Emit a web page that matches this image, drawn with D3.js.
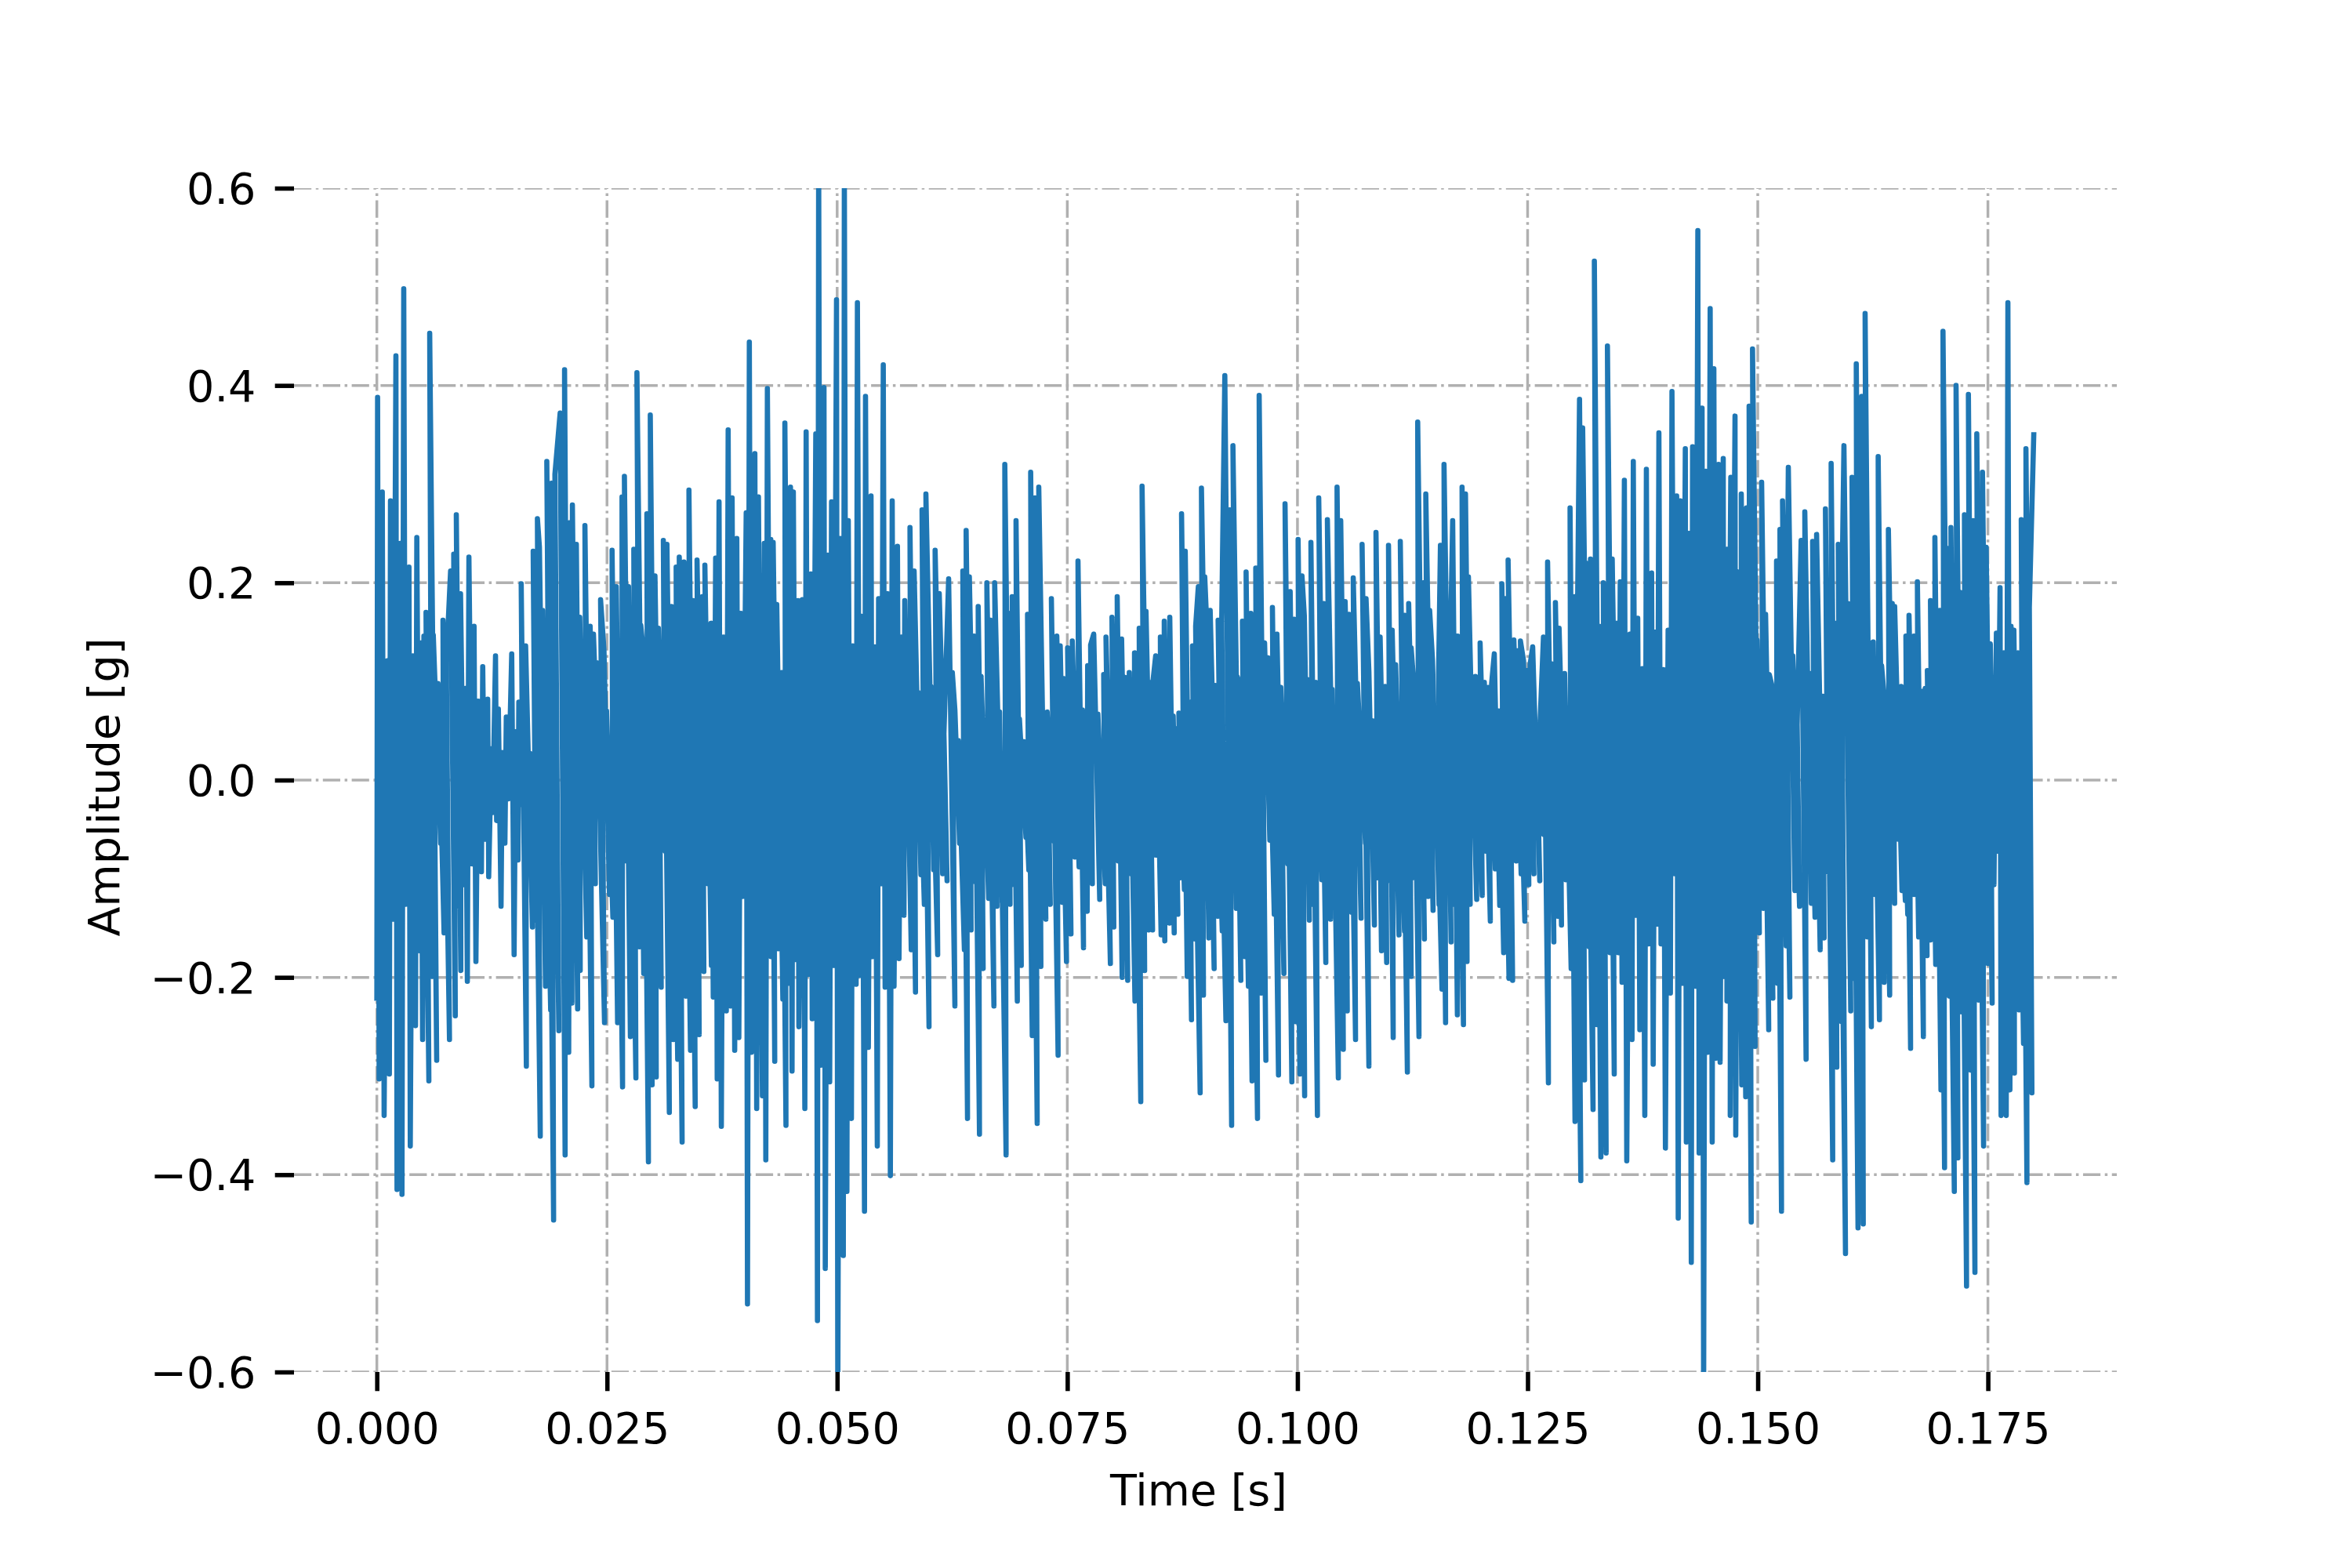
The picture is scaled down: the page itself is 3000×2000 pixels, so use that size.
<!DOCTYPE html>
<html>
<head>
<meta charset="utf-8">
<script src="https://cdn.jsdelivr.net/npm/d3@7"></script>
<style>
html,body{margin:0;padding:0;background:#fff;}
svg{display:block;}
text{font-family:"DejaVu Sans",sans-serif;fill:#000;}
</style>
</head>
<body>
<svg id="chart" width="3000" height="2000"></svg>
<script>
// Values: upper and lower excursions of the signal.
const topMs = [
0.08,0.59,1.13,1.48,2.07,2.55,2.92,3.49,3.92,4.34,4.77,5.11,5.34,5.74,6.13,6.64,7.18,7.55,8.01,8.35,8.63,9.09,9.60,10.0,10.56,11.02,11.50,12.04,12.44,12.89,13.20,13.63,14.06,14.65,15.08,15.42,15.68,16.16,16.64,16.98,17.44,17.66,18.00,18.46,18.97,19.34,19.91,20.39,20.96,21.24,21.67,22.04,
22.60,23.17,23.53,23.88,24.30,24.67,24.95,25.55,26.01,26.63,26.89,27.34,27.91,28.25,28.67,28.99,29.33,29.70,30.21,30.58,31.12,31.51,32.00,32.51,32.85,33.36,33.90,34.35,34.78,35.35,35.63,36.29,36.80,37.17,37.65,38.16,38.59,39.10,39.55,40.12,40.46,41.06,41.45,42.08,42.42,42.79,43.05,43.44,43.98,44.32,
44.93,45.24,45.73,46.21,46.63,47.15,47.68,47.99,48.57,48.99,49.39,49.93,50.33,50.78,51.21,51.69,52.20,52.65,53.08,53.68,54.10,54.50,55.01,55.49,55.98,56.55,56.97,57.34,57.91,58.36,58.79,59.22,59.64,60.18,60.64,61.09,61.60,62.11,62.51,62.79,63.16,63.65,64.01,64.36,64.87,65.32,65.63,66.26,66.66,67.11,
67.64,68.21,68.61,69.01,69.43,69.80,70.25,70.68,71.02,71.48,71.90,72.38,72.81,73.27,73.86,74.23,74.57,75.03,75.54,76.16,76.64,77.21,77.53,77.87,78.32,78.95,79.20,79.85,80.42,80.90,81.27,81.73,82.30,82.81,83.12,83.55,83.89,84.14,84.60,85.11,85.53,86.13,86.50,86.73,87.12,87.41,87.81,88.23,88.60,88.94,89.23,89.57,
89.93,90.16,90.52,91.06,91.38,91.77,92.11,92.63,92.99,93.45,93.68,94.02,94.42,94.93,95.47,95.84,96.18,96.43,96.80,97.28,97.77,98.19,98.65,99.21,99.64,100.07,100.49,100.75,101.03,101.46,101.97,102.31,102.85,103.25,103.76,104.30,104.70,105.18,105.60,106.06,106.51,107.02,107.45,107.76,108.19,108.53,108.98,109.52,109.89,110.29,110.66,111.17,111.65,112.08,
112.35,112.63,113.06,113.34,113.68,113.94,114.36,114.67,114.99,115.33,115.53,115.92,116.32,116.55,116.86,117.40,117.88,118.25,118.57,118.88,119.33,119.84,120.30,120.72,121.09,121.38,121.86,122.20,122.57,122.88,123.22,123.51,123.88,124.22,124.56,124.93,125.27,125.55,125.95,126.35,126.72,127.17,127.57,128.02,128.42,129.02,129.61,130.10,130.38,130.64,130.98,131.32,131.83,132.25,132.79,133.22,133.67,134.19,134.64,
135.06,135.51,136.11,136.48,136.96,137.47,137.90,138.47,138.84,139.26,139.74,140.26,140.68,141.19,141.59,142.13,142.50,142.92,143.49,143.95,144.34,144.83,145.23,145.74,146.25,146.65,147.07,147.53,147.84,148.21,148.78,149.06,149.43,149.91,150.42,150.85,151.25,151.64,152.04,152.41,152.69,153.15,153.32,153.80,154.28,154.71,155.11,155.68,155.96,156.39,157.07,157.35,
157.97,158.37,158.74,159.10,159.36,159.79,160.24,160.70,161.29,161.66,162.17,162.54,163.08,163.45,163.73,164.19,164.61,164.87,165.27,165.58,166.09,166.43,166.97,167.34,167.85,168.19,168.42,168.76,169.24,169.78,170.12,170.55,170.98,171.54,172.03,172.45,172.88,173.39,173.79,174.41,174.81,175.26,175.92,176.32,176.77,177.17,177.51,177.82,178.22,178.62,179.13,179.50,179.98
];
const topG = [
.388,.292,.121,.283,.430,.240,.498,.216,.126,.246,.139,.146,.170,.453,.147,.098,.162,.120,.212,.229,.269,.189,.093,.226,.156,.080,.115,.082,.032,.126,.072,.028,.064,.128,.049,.079,.199,.136,.027,.232,.265,.236,.172,.323,.301,.310,.372,.416,.261,.279,.239,.165,
.258,.156,.148,.119,.183,.132,.070,.233,.196,.287,.308,.196,.234,.413,.157,.126,.270,.370,.207,.154,.243,.239,.176,.216,.226,.221,.294,.182,.223,.186,.218,.159,.225,.282,.145,.355,.286,.245,.169,.271,.444,.331,.287,.240,.397,.244,.241,.178,.109,.362,
.297,.292,.182,.183,.353,.209,.351,.640,.398,.228,.282,.487,.245,.620,.263,.136,.484,.166,.389,.288,.135,.184,.421,.189,.283,.237,.145,.182,.256,.212,.089,.274,.290,.095,.233,.189,.047,.204,.109,.071,.040,.212,.253,.206,.146,.176,.105,.200,.162,.200,
.069,.320,.169,.186,.263,.062,.039,.168,.312,.286,.297,.048,.069,.184,.146,.136,.103,.134,.141,.222,.071,.116,.137,.148,.067,.107,.145,.165,.186,.143,.104,.109,.129,.154,.298,.171,.099,.086,.126,.145,.161,.165,.065,.052,.068,.270,.232,.079,.136,.156,.196,.296,
.206,.155,.172,.096,.162,.161,.410,.274,.339,.105,.099,.161,.211,.169,.215,.390,.110,.139,.124,.175,.148,.094,.280,.191,.163,.244,.207,.166,.102,.241,.099,.286,.179,.264,.092,.297,.263,.181,.168,.205,.098,.239,.184,.110,.060,.251,.145,.095,.238,.152,.117,.242,.167,.179,
.134,.099,.363,.157,.200,.290,.172,.122,.052,.107,.238,.320,.117,.103,.263,.146,.297,.290,.206,.079,.105,.139,.099,.094,.098,.128,.070,.199,.184,.223,.043,.142,.131,.141,.121,.111,.117,.135,.052,.058,.145,.221,.118,.180,.154,.108,.276,.186,.129,.386,.357,.220,.224,.526,.156,.200,.440,.224,.159,
.201,.304,.148,.323,.164,.113,.315,.210,.150,.352,.112,.152,.394,.288,.283,.336,.250,.338,.557,.377,.313,.478,.417,.320,.326,.234,.307,.369,.211,.290,.276,.379,.437,.142,.302,.168,.107,.092,.222,.254,.283,.128,.317,.126,.056,.243,.272,.108,.242,.249,.085,.275,
.321,.159,.239,.158,.339,.179,.307,.422,.389,.473,.139,.140,.328,.116,.085,.254,.179,.176,.052,.095,.146,.167,.146,.201,.090,.093,.111,.182,.246,.172,.455,.235,.256,.400,.190,.269,.391,.263,.351,.312,.236,.138,.149,.195,.129,.484,.156,.152,.129,.264,.336,.175,.350
];
const bottomMs = [
0.00,0.25,0.79,1.36,1.79,2.19,2.73,3.12,3.63,4.20,4.63,4.97,5.65,5.99,6.50,6.93,7.30,7.89,8.52,8.89,9.12,9.51,9.83,10.36,10.76,11.36,11.73,12.15,12.58,13.01,13.49,13.91,14.28,14.91,15.33,15.85,16.24,16.90,17.29,17.75,18.32,18.88,19.20,19.77,20.45,20.84,21.19,21.81,
22.09,22.80,23.36,23.73,24.36,24.73,25.27,25.64,26.15,26.69,27.11,27.54,28.14,28.53,28.99,29.50,29.90,30.35,30.89,31.32,31.77,32.20,32.68,33.16,33.59,34.07,34.58,35.01,35.52,35.95,36.34,36.54,36.97,37.42,37.96,38.42,38.87,39.32,39.72,40.26,40.69,41.26,41.88,42.25,42.82,43.22,43.61,44.10,44.44,
44.79,45.10,45.53,45.84,46.49,46.83,47.29,47.86,48.22,48.71,49.19,49.62,50.07,50.67,51.06,51.55,52.06,52.46,52.97,53.39,53.82,54.36,54.81,55.21,55.78,56.18,56.72,57.26,58.05,58.51,59.10,59.47,59.98,60.49,60.92,61.46,61.94,62.79,63.30,63.82,64.16,64.55,65.01,65.46,65.86,66.46,67.03,
67.36,67.93,68.35,68.78,69.23,69.57,70.00,70.51,70.82,71.19,71.73,72.13,72.67,73.15,73.55,74.00,74.46,74.91,75.40,75.82,76.28,76.76,77.16,77.72,78.52,79.12,79.68,80.05,80.54,80.96,81.56,81.96,82.35,82.98,83.40,83.83,84.26,84.63,85.19,85.59,86.10,86.61,87.01,87.30,87.72,88.03,88.49,88.89,89.43,
89.79,90.38,90.95,91.35,91.83,92.23,92.85,93.36,93.85,94.30,94.67,95.07,95.66,96.06,96.57,97.00,97.48,97.94,98.53,98.96,99.39,99.81,100.27,100.78,101.29,101.69,102.17,102.65,103.08,103.59,104.01,104.44,104.98,105.41,105.89,106.31,106.91,107.39,107.76,108.36,108.70,109.13,109.69,110.06,110.40,111.03,111.63,111.94,
112.35,112.77,113.20,113.79,114.19,114.73,115.38,115.70,116.09,116.69,117.03,117.37,118.03,118.42,118.76,119.47,120.07,120.47,120.95,121.49,121.97,122.40,122.98,123.37,123.76,124.30,124.70,125.13,125.69,126.32,126.74,127.26,127.85,128.28,128.68,129.16,129.73,130.15,130.78,131.18,131.69,132.11,132.54,132.96,133.53,133.96,134.41,134.84,
134.86,135.26,135.77,136.34,136.73,137.19,137.73,138.13,138.64,139.09,139.49,139.97,140.51,140.97,141.36,141.82,142.24,142.78,143.24,143.63,144.12,144.57,145.05,145.45,145.91,146.33,146.65,147.01,147.61,148.26,148.69,149.29,149.71,150.17,150.62,151.19,151.64,152.15,152.58,153.09,153.49,154.03,154.54,155.25,155.82,156.22,156.78,157.21,
157.63,158.14,158.59,159.10,159.53,160.10,160.47,160.89,161.46,161.89,162.34,162.74,163.22,163.73,164.33,164.87,165.27,165.67,166.03,166.29,166.60,167.00,167.48,167.99,168.39,168.76,168.99,169.33,169.90,170.29,170.81,171.35,171.74,172.17,172.68,173.13,173.59,174.01,174.53,175.01,175.46,175.66,176.03,176.43,176.99,177.39,177.88,178.39,178.87,179.24,179.78
];
const bottomG = [
-.221,-.303,-.340,-.298,-.141,-.415,-.420,-.126,-.371,-.249,-.173,-.263,-.305,-.199,-.284,-.064,-.155,-.263,-.239,-.128,-.193,-.106,-.204,-.085,-.184,-.093,-.060,-.098,-.033,-.041,-.128,-.064,-.019,-.177,-.081,-.025,-.290,-.149,-.142,-.361,-.209,-.233,-.446,-.254,-.380,-.276,-.226,-.232,
-.193,-.159,-.310,-.105,-.070,-.246,-.116,-.139,-.246,-.311,-.082,-.260,-.302,-.169,-.196,-.387,-.309,-.301,-.210,-.072,-.337,-.263,-.283,-.367,-.219,-.274,-.331,-.258,-.194,-.105,-.188,-.220,-.303,-.351,-.234,-.229,-.274,-.261,-.118,-.531,-.276,-.333,-.320,-.385,-.179,-.285,-.171,-.222,-.350,
-.206,-.295,-.182,-.250,-.333,-.197,-.242,-.548,-.289,-.495,-.306,-.188,-.630,-.482,-.417,-.343,-.207,-.198,-.437,-.271,-.179,-.371,-.105,-.210,-.401,-.209,-.181,-.137,-.172,-.215,-.096,-.126,-.250,-.091,-.177,-.095,-.102,-.229,-.064,-.172,-.343,-.152,-.103,-.359,-.191,-.120,-.229,
-.128,-.124,-.380,-.126,-.106,-.224,-.188,-.058,-.091,-.259,-.348,-.189,-.141,-.126,-.062,-.279,-.124,-.184,-.156,-.078,-.088,-.170,-.133,-.105,-.121,-.105,-.186,-.149,-.082,-.200,-.203,-.095,-.224,-.326,-.193,-.152,-.152,-.076,-.157,-.163,-.145,-.155,-.136,-.099,-.111,-.199,-.243,-.161,-.317,
-.218,-.160,-.191,-.138,-.153,-.244,-.350,-.130,-.203,-.179,-.209,-.305,-.343,-.216,-.284,-.061,-.136,-.299,-.196,-.085,-.306,-.245,-.298,-.320,-.142,-.126,-.340,-.101,-.185,-.141,-.105,-.302,-.273,-.234,-.134,-.263,-.140,-.064,-.290,-.147,-.099,-.173,-.185,-.102,-.261,-.157,-.153,-.296,
-.199,-.099,-.260,-.161,-.118,-.132,-.126,-.212,-.246,-.164,-.126,-.238,-.248,-.184,-.126,-.121,-.117,-.072,-.143,-.090,-.127,-.175,-.201,-.203,-.082,-.095,-.143,-.106,-.095,-.102,-.055,-.307,-.164,-.138,-.147,-.101,-.191,-.346,-.406,-.304,-.169,-.334,-.248,-.382,-.378,-.175,-.298,-.174,
-.175,-.205,-.386,-.263,-.137,-.253,-.340,-.166,-.288,-.146,-.166,-.373,-.216,-.095,-.444,-.206,-.367,-.489,-.209,-.378,-.630,-.276,-.367,-.282,-.286,-.199,-.224,-.340,-.360,-.309,-.321,-.448,-.270,-.155,-.130,-.253,-.221,-.206,-.437,-.168,-.220,-.112,-.128,-.283,-.125,-.139,-.172,-.160,
-.093,-.385,-.291,-.245,-.480,-.234,-.201,-.454,-.450,-.159,-.250,-.116,-.243,-.205,-.218,-.125,-.060,-.112,-.122,-.136,-.272,-.116,-.159,-.260,-.178,-.162,-.107,-.187,-.314,-.393,-.219,-.417,-.383,-.235,-.513,-.294,-.499,-.223,-.371,-.186,-.226,-.106,-.072,-.340,-.340,-.314,-.297,-.233,-.267,-.408,-.317
];
const xTicks = [0,0.025,0.05,0.075,0.1,0.125,0.15,0.175];
const xTickLabels = ["0.000","0.025","0.050","0.075","0.100","0.125","0.150","0.175"];
const yTicks = [-0.6,-0.4,-0.2,0,0.2,0.4,0.6];
const yTickLabels = ["\u22120.6","\u22120.4","\u22120.2","0.0","0.2","0.4","0.6"];
const xLabel = "Time [s]";
const yLabel = "Amplitude [g]";

const PT = 500/72;
const W=3000,H=2000,L=375,R=2700,T=240,B=1750;
const svg = d3.select("#chart");
const x = d3.scaleLinear().domain([-0.009,0.189]).range([L,R]);
const y = d3.scaleLinear().domain([-0.6,0.6]).range([B,T]);

svg.append("defs").append("clipPath").attr("id","plot").append("rect")
  .attr("x",L).attr("y",T).attr("width",R-L).attr("height",B-T);

const dash = [3.2,0.8,0.5,0.8].map(d=>d*PT).join(" ");
const grid = svg.append("g").attr("clip-path","url(#plot)")
  .attr("stroke","#b0b0b0").attr("stroke-width",0.5*PT).attr("stroke-dasharray",dash).attr("fill","none");
grid.selectAll(".gx").data(xTicks).join("line").attr("class","gx")
  .attr("x1",d=>x(d)).attr("x2",d=>x(d)).attr("y1",B).attr("y2",T);
grid.selectAll(".gy").data(yTicks).join("line").attr("class","gy")
  .attr("x1",L).attr("x2",R).attr("y1",d=>y(d)).attr("y2",d=>y(d));

// Weave the upper and lower readings so the trace swings through the core.
const series = [];
let iT = 0, iB = 0, wantBottom = true;
const SWAP_MS = 0.5;
while (iT < topMs.length || iB < bottomMs.length) {
  const nextT = iT < topMs.length ? topMs[iT] : Infinity;
  const nextB = iB < bottomMs.length ? bottomMs[iB] : Infinity;
  const useBottom = wantBottom ? nextB <= nextT + SWAP_MS : nextT > nextB + SWAP_MS;
  if (useBottom) { series.push({t:bottomMs[iB]/1000, v:bottomG[iB]}); iB++; wantBottom = false; }
  else { series.push({t:topMs[iT]/1000, v:topG[iT]}); iT++; wantBottom = true; }
}

svg.append("g").attr("clip-path","url(#plot)").append("path")
  .datum(series)
  .attr("fill","none").attr("stroke","#1f77b4").attr("stroke-width",6.6)
  .attr("stroke-linejoin","round").attr("stroke-linecap","square")
  .attr("d",d3.line().x(d=>x(d.t)).y(d=>y(d.v)));

const fs = 8*PT, tl = 3.5*PT, tw = 0.8*PT;
const xAxis = d3.axisBottom(x).tickValues(xTicks).tickFormat((d,i)=>xTickLabels[i]).tickSize(tl).tickPadding(tl);
const yAxis = d3.axisLeft(y).tickValues(yTicks).tickFormat((d,i)=>yTickLabels[i]).tickSize(tl).tickPadding(tl);
const gx = svg.append("g").attr("transform",`translate(0,${B})`).call(xAxis);
const gy = svg.append("g").attr("transform",`translate(${L},0)`).call(yAxis);
[gx,gy].forEach(g=>{
  g.select(".domain").remove();
  g.selectAll("line").attr("stroke","#000").attr("stroke-width",tw);
  g.selectAll("text").attr("font-size",fs).attr("font-family","DejaVu Sans").attr("fill","#000");
});
gx.selectAll("text").attr("dy",null).attr("y",91);
gy.selectAll("text").attr("dy",null).attr("y",19.5);

svg.append("text").attr("x",1529).attr("y",1919.5).attr("text-anchor","middle")
  .attr("font-size",fs).text(xLabel);
svg.append("text").attr("transform",`translate(152,1004) rotate(-90)`).attr("text-anchor","middle")
  .attr("font-size",fs).text(yLabel);
</script>
</body>
</html>
